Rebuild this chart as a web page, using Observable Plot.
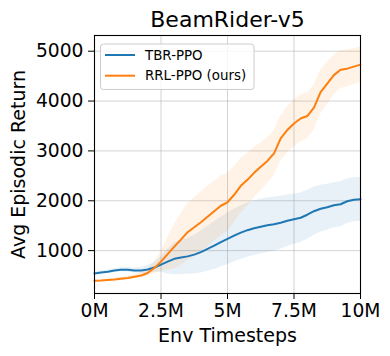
<!DOCTYPE html>
<html><head><meta charset="utf-8">
<script src="https://cdn.jsdelivr.net/npm/d3@7"></script>
<script src="https://cdn.jsdelivr.net/npm/@observablehq/plot@0.6"></script>
<style>body{margin:0;background:#fff} #chart{width:390px;height:356px}</style>
</head><body><div id="chart"></div>
<script>
// timesteps (millions)
const steps = [0,0.25,0.5,0.75,1,1.25,1.5,1.75,2,2.25,2.5,2.75,3,3.25,3.5,3.75,4,4.25,4.5,4.75,5,5.25,5.5,5.75,6,6.25,6.5,6.75,7,7.25,7.5,7.75,8,8.25,8.5,8.75,9,9.25,9.5,9.75,10];
const tbrMean = [540,560,575,600,615,615,600,600,620,660,720,780,835,860,885,920,970,1035,1100,1170,1235,1300,1360,1410,1450,1480,1510,1530,1560,1600,1630,1660,1720,1790,1840,1870,1910,1930,1990,2020,2030];
const tbrSpread = [30,30,35,35,40,45,50,60,75,100,150,250,320,340,360,390,420,450,480,500,520,530,540,545,550,550,550,540,530,515,500,495,490,480,470,460,450,450,445,440,440];
const rrlMean = [395,400,410,420,435,450,475,500,550,650,780,930,1080,1220,1370,1470,1570,1680,1790,1900,1970,2120,2300,2420,2560,2680,2800,2950,3250,3420,3550,3650,3700,3870,4180,4350,4520,4630,4650,4690,4730];
const rrlSpread = [15,20,20,25,30,35,40,50,80,120,200,330,450,520,570,590,600,600,600,600,580,560,550,530,510,480,460,450,450,460,470,470,460,450,440,420,400,380,370,360,360];
const seriesNames = ["TBR-PPO", "RRL-PPO (ours)"];
const seriesColors = ["#1f77b4", "#ff7f0e"];
const xTicks = [0, 2.5, 5, 7.5, 10];
const xTickLabels = ["0M", "2.5M", "5M", "7.5M", "10M"];
const yTicks = [1000, 2000, 3000, 4000, 5000];
const titleText = "BeamRider-v5";
const xLabel = "Env Timesteps";
const yLabel = "Avg Episodic Return";

const rows = [];
[[tbrMean, tbrSpread], [rrlMean, rrlSpread]].forEach(([m, s], k) => {
  steps.forEach((t, i) => rows.push({series: seriesNames[k], t, mean: m[i], lo: m[i] - s[i], hi: m[i] + s[i]}));
});

const color = {domain: seriesNames, range: seriesColors};
const FONT = "DejaVu Sans";

const chart = Plot.plot({
  width: 390, height: 356,
  marginLeft: 94, marginRight: 30, marginTop: 35, marginBottom: 63,
  style: {fontFamily: FONT, fontSize: "18.7px", color: "black", background: "white", overflow: "visible"},
  x: {domain: [0, 10]},
  y: {domain: [140, 5315]},
  color,
  marks: [
    Plot.gridX(xTicks, {stroke: "#b0b0b0", strokeOpacity: 0.55}),
    Plot.gridY(yTicks, {stroke: "#b0b0b0", strokeOpacity: 0.55}),
    Plot.areaY(rows, {x: "t", y1: "lo", y2: "hi", z: "series", fill: "series", fillOpacity: 0.1}),
    Plot.lineY(rows, {x: "t", y: "mean", z: "series", stroke: "series", strokeWidth: 2}),
    Plot.frame({stroke: "black", strokeWidth: 1.1}),
    Plot.axisX(xTicks, {tickSize: 6, tickPadding: 4, label: null, fontSize: 18.7,
      tickFormat: d => xTickLabels[xTicks.indexOf(d)]}),
    Plot.axisY(yTicks, {tickSize: 6, tickPadding: 5, label: null, fontSize: 18.7,
      tickFormat: d => String(d)}),
    Plot.text([titleText], {text: d => d, frameAnchor: "top", lineAnchor: "middle", textAnchor: "middle", dy: -16, fontSize: 22}),
    Plot.text([xLabel], {text: d => d, frameAnchor: "bottom", lineAnchor: "middle", textAnchor: "middle", dy: 42, fontSize: 19}),
    Plot.text([yLabel], {text: d => d, frameAnchor: "left", lineAnchor: "middle", textAnchor: "middle", dx: -76, rotate: -90, fontSize: 19})
  ]
});
document.getElementById("chart").appendChild(chart);

// legend
const svg = d3.select(chart);
const lg = svg.append("g").attr("font-family", FONT).attr("font-size", 13.4).attr("text-anchor", "start");
lg.append("rect").attr("x", 100.5).attr("y", 44).attr("width", 153.5).attr("height", 45.5)
  .attr("rx", 3).attr("fill", "white").attr("fill-opacity", 0.8).attr("stroke", "#cccccc");
seriesNames.forEach((name, i) => {
  const y = 55 + i * 20.7;
  lg.append("line").attr("x1", 105).attr("x2", 135).attr("y1", y).attr("y2", y)
    .attr("stroke", seriesColors[i]).attr("stroke-width", 2);
  lg.append("text").attr("x", 145).attr("y", y).attr("dy", "0.35em").attr("fill", "black")
    .attr("text-anchor", "start").text(name);
});
</script></body></html>
